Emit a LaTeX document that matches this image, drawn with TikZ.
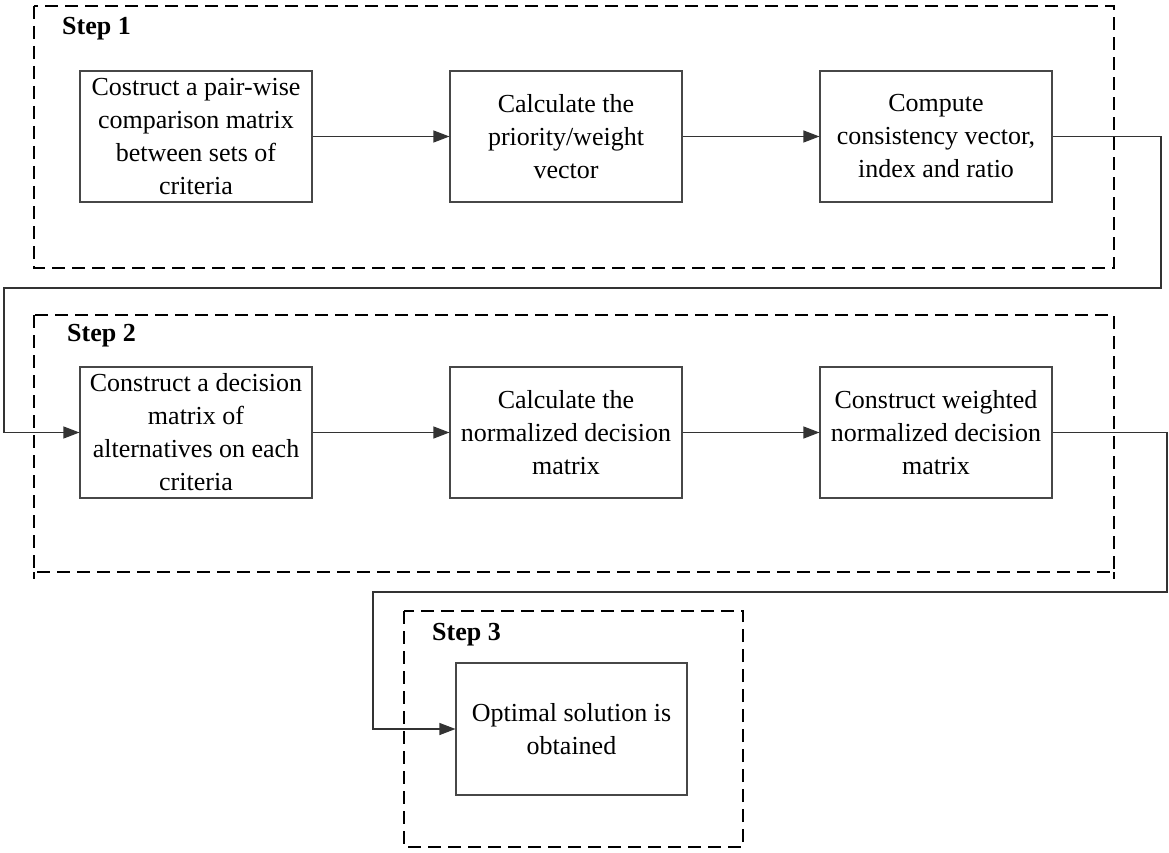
\documentclass[tikz,border=0pt]{standalone}
\usepackage{fontspec}
\setmainfont{Liberation Serif}
\usetikzlibrary{arrows.meta}
\tikzset{
  stepbox/.style={draw=black!72, line width=1.1pt, fill=white, minimum width=232pt, minimum height=131pt, inner sep=0pt, align=center, font=\fontsize{26}{33}\selectfont},
  frame/.style={draw=black, line width=1.5pt, dash pattern=on 13pt off 7pt},
  steplabel/.style={anchor=west, inner sep=0pt, font=\fontsize{26}{31}\selectfont\bfseries},
  conn/.style={draw=black!80, line width=1.1pt, -{Triangle[length=16pt,width=12pt]}}
}
\begin{document}
\begin{tikzpicture}[x=1pt,y=-1pt]
\useasboundingbox (0,0) rectangle (1169,853);
% dashed frames
\draw[frame] (34,6) rectangle (1114,268);
\draw[frame] (34,315) rectangle (1114,572);
\draw[frame] (34,572) -- (34,579);
\draw[frame] (1114,572) -- (1114,579);
\draw[frame] (404,611) rectangle (743,847);
% step labels
\node[steplabel] (s1) at (62,29) {Step 1};
\node[steplabel] (s2) at (67,336) {Step 2};
\node[steplabel] (s3) at (432,635) {Step 3};
% boxes
\node[stepbox] (b1) at (196,136.5) {Costruct a pair-wise\\comparison matrix\\between sets of\\criteria};
\node[stepbox] (b2) at (566,136.5) {Calculate the\\priority/weight\\vector};
\node[stepbox] (b3) at (936,136.5) {Compute\\consistency vector,\\index and ratio};
\node[stepbox] (b4) at (196,432.5) {Construct a decision\\matrix of\\alternatives on each\\criteria};
\node[stepbox] (b5) at (566,432.5) {Calculate the\\normalized decision\\matrix};
\node[stepbox] (b6) at (936,432.5) {Construct weighted\\normalized decision\\matrix};
\node[stepbox, minimum width=231pt, minimum height=132pt] (b7) at (571.5,729) {Optimal solution is\\obtained};
% turn points
\coordinate (t1) at (1161,288);
\coordinate (t2) at (4,288);
\coordinate (t3) at (1167,592);
\coordinate (t4) at (373,592);
% connectors
\draw[conn] (b1.east) -- (b2.west);
\draw[conn] (b2.east) -- (b3.west);
\draw[conn] (b3.east) -| (t1) -- (t2) |- (b4.west);
\draw[conn] (b4.east) -- (b5.west);
\draw[conn] (b5.east) -- (b6.west);
\draw[conn] (b6.east) -| (t3) -- (t4) |- (b7.west);
\end{tikzpicture}
\end{document}
